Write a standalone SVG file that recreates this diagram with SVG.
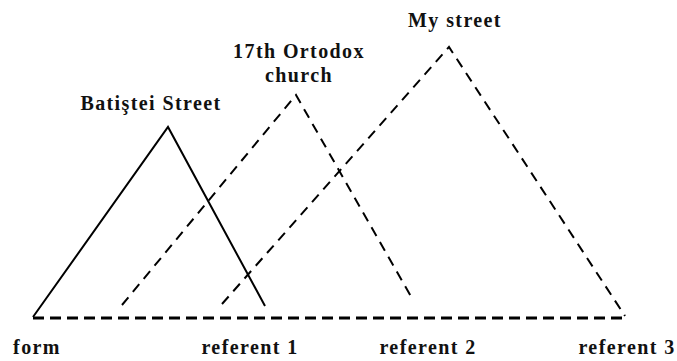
<svg xmlns="http://www.w3.org/2000/svg" width="677" height="361" viewBox="0 0 677 361">
<style>
.lbl{font-family:"Liberation Serif","Times New Roman",serif;font-weight:bold;font-size:20px;letter-spacing:1.4px;fill:#111;text-anchor:middle}
.solid{stroke:#000;stroke-width:2;fill:none}
.dash{stroke:#000;stroke-width:2;fill:none;stroke-dasharray:10,7}
.base{stroke:#000;stroke-width:3;fill:none;stroke-dasharray:11,6}
</style>
<rect width="677" height="361" fill="#fff"/>
<g id="connectors">
<polyline id="tri1" class="solid" points="33,317 168,127 265,306"/>
<polyline id="tri2" class="dash" points="122,305 296,95 413,300"/>
<polyline id="tri3" class="dash" points="222,304 449,47 625,316"/>
<line id="baseline" class="base" x1="33" y1="318" x2="625" y2="318"/>
</g>
<g id="n-batistei"><text class="lbl" x="151" y="110">Batiştei Street</text></g>
<g id="n-church"><text class="lbl" x="299" y="58">17th Ortodox</text><text class="lbl" x="299" y="82">church</text></g>
<g id="n-mystreet"><text class="lbl" x="455" y="27">My street</text></g>
<g id="n-form"><text class="lbl" x="37" y="354">form</text></g>
<g id="n-ref1"><text class="lbl" x="250" y="354">referent 1</text></g>
<g id="n-ref2"><text class="lbl" x="428" y="354">referent 2</text></g>
<g id="n-ref3"><text class="lbl" x="627" y="354">referent 3</text></g>
</svg>
